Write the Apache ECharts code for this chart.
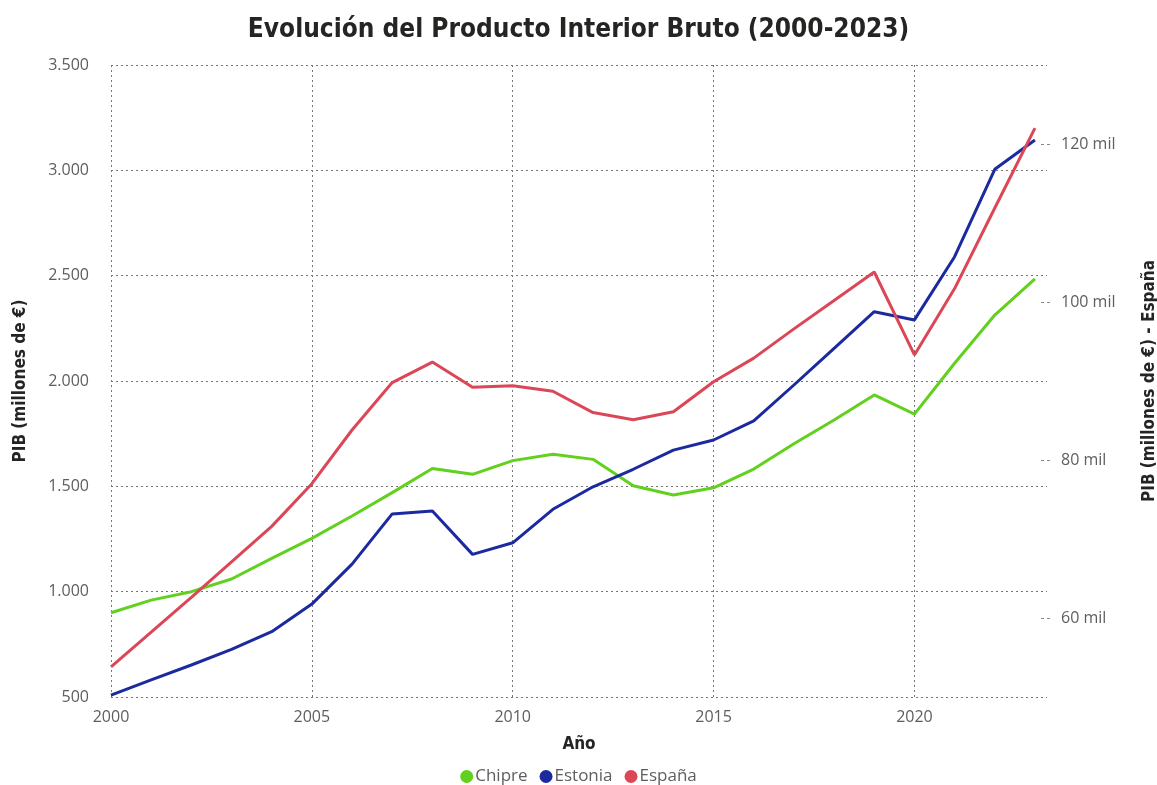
<!DOCTYPE html>
<html>
<head>
<meta charset="utf-8">
<script src="https://cdn.jsdelivr.net/npm/echarts@6/dist/echarts.min.js"></script>
<style>
  html, body { margin: 0; padding: 0; background: #fff; }
  #chart { width: 1157px; height: 785px; }
</style>
</head>
<body>
<div id="chart"></div>
<script>
const years = [2000, 2001, 2002, 2003, 2004, 2005, 2006, 2007, 2008, 2009, 2010, 2011,
  2012, 2013, 2014, 2015, 2016, 2017, 2018, 2019, 2020, 2021, 2022, 2023];

// millones de €
const chipre = [900, 960, 1000, 1060, 1158, 1253, 1359, 1470, 1585, 1557, 1622, 1652,
  1628, 1503, 1459, 1493, 1582, 1702, 1815, 1934, 1843, 2084, 2313, 2485];
const estonia = [509, 581, 652, 726, 810, 941, 1131, 1369, 1383, 1177, 1232, 1391,
  1498, 1581, 1672, 1720, 1811, 1981, 2155, 2329, 2290, 2590, 3005, 3144];
const espana = [53800, 58200, 62600, 67100, 71600, 77000, 83800, 89800, 92400, 89200, 89400, 88700,
  86000, 85100, 86100, 89900, 92900, 96600, 100200, 103800, 93300, 101700, 111900, 122000];

const leftTicks = [500, 1000, 1500, 2000, 2500, 3000, 3500];
const rightTicks = [60000, 80000, 100000, 120000];

const labelFont = "'Open Sans', 'Noto Sans', sans-serif";
const boldFont = "'DejaVu Sans Condensed', 'Liberation Sans Narrow', 'Roboto Condensed', 'DejaVu Sans', sans-serif";
const gridLine = { type: [2, 3], color: '#777', width: 1 };

const chart = echarts.init(document.getElementById('chart'));

const pairs = vals => years.map((y, i) => [y, vals[i]]);

chart.setOption({
  animation: false,
  title: {
    text: 'Evolución del Producto Interior Bruto (2000-2023)',
    left: 'center',
    top: 12,
    textStyle: { fontFamily: boldFont, fontWeight: 'bold', fontSize: 26, color: '#252423' }
  },
  legend: {
    top: 763,
    left: 'center',
    icon: 'circle',
    itemWidth: 13,
    itemHeight: 13,
    itemGap: 12,
    textStyle: { fontFamily: labelFont, fontSize: 17, color: '#605E5C', padding: [0, 0, 0, -3] },
    data: ['Chipre', 'Estonia', 'España']
  },
  grid: { left: 111, right: 110, top: 65, bottom: 88, outerBoundsMode: 'none', containLabel: false },
  xAxis: {
    type: 'value',
    min: 2000,
    max: 2023.3,
    interval: 5,
    name: 'Año',
    nameLocation: 'middle',
    nameGap: 39,
    nameTextStyle: { fontFamily: boldFont, fontWeight: 'bold', fontSize: 17, color: '#252423' },
    axisLine: { show: false },
    axisTick: { show: false },
    axisLabel: {
      margin: 12,
      fontFamily: labelFont, fontSize: 16, color: '#605E5C',
      showMaxLabel: false,
      formatter: v => (v % 5 === 0 ? String(v) : '')
    },
    splitLine: { show: true, showMaxLine: false, lineStyle: gridLine }
  },
  yAxis: [
    {
      type: 'value',
      position: 'left',
      min: leftTicks[0],
      max: leftTicks[leftTicks.length - 1],
      interval: 500,
      name: 'PIB (millones de €)',
      nameLocation: 'middle',
      nameGap: 82,
      nameTextStyle: { fontFamily: boldFont, fontWeight: 'bold', fontSize: 17, color: '#252423' },
      axisLine: { show: false },
      axisTick: { show: false },
      axisLabel: {
        margin: 22,
        fontFamily: labelFont, fontSize: 16, color: '#605E5C',
        formatter: v => v.toString().replace(/\B(?=(\d{3})+(?!\d))/g, '.')
      },
      splitLine: { show: true, lineStyle: gridLine }
    },
    {
      type: 'value',
      position: 'right',
      offset: -6,
      min: 50000,
      max: 130000,
      name: 'PIB (millones de €) - España',
      nameLocation: 'middle',
      nameGap: 100,
      nameTextStyle: { fontFamily: boldFont, fontWeight: 'bold', fontSize: 17, color: '#252423' },
      axisLine: { show: false },
      axisTick: {
        show: true,
        length: 10,
        customValues: rightTicks,
        lineStyle: { type: [3, 3], color: '#888' }
      },
      axisLabel: {
        margin: 20,
        customValues: rightTicks,
        fontFamily: labelFont, fontSize: 16, color: '#605E5C',
        formatter: v => (rightTicks.indexOf(v) >= 0 ? (v / 1000) + ' mil' : '')
      },
      splitLine: { show: false }
    }
  ],
  series: [
    {
      name: 'Chipre', type: 'line', yAxisIndex: 0, data: pairs(chipre),
      showSymbol: false, symbol: 'circle', color: '#62D01E',
      lineStyle: { width: 3, color: '#62D01E' }
    },
    {
      name: 'Estonia', type: 'line', yAxisIndex: 0, data: pairs(estonia),
      showSymbol: false, symbol: 'circle', color: '#1B2A9E',
      lineStyle: { width: 3, color: '#1B2A9E' }
    },
    {
      name: 'España', type: 'line', yAxisIndex: 1, data: pairs(espana),
      showSymbol: false, symbol: 'circle', color: '#DB4756',
      lineStyle: { width: 3, color: '#DB4756' }
    }
  ]
});

window.addEventListener('resize', () => chart.resize());
</script>
</body>
</html>
